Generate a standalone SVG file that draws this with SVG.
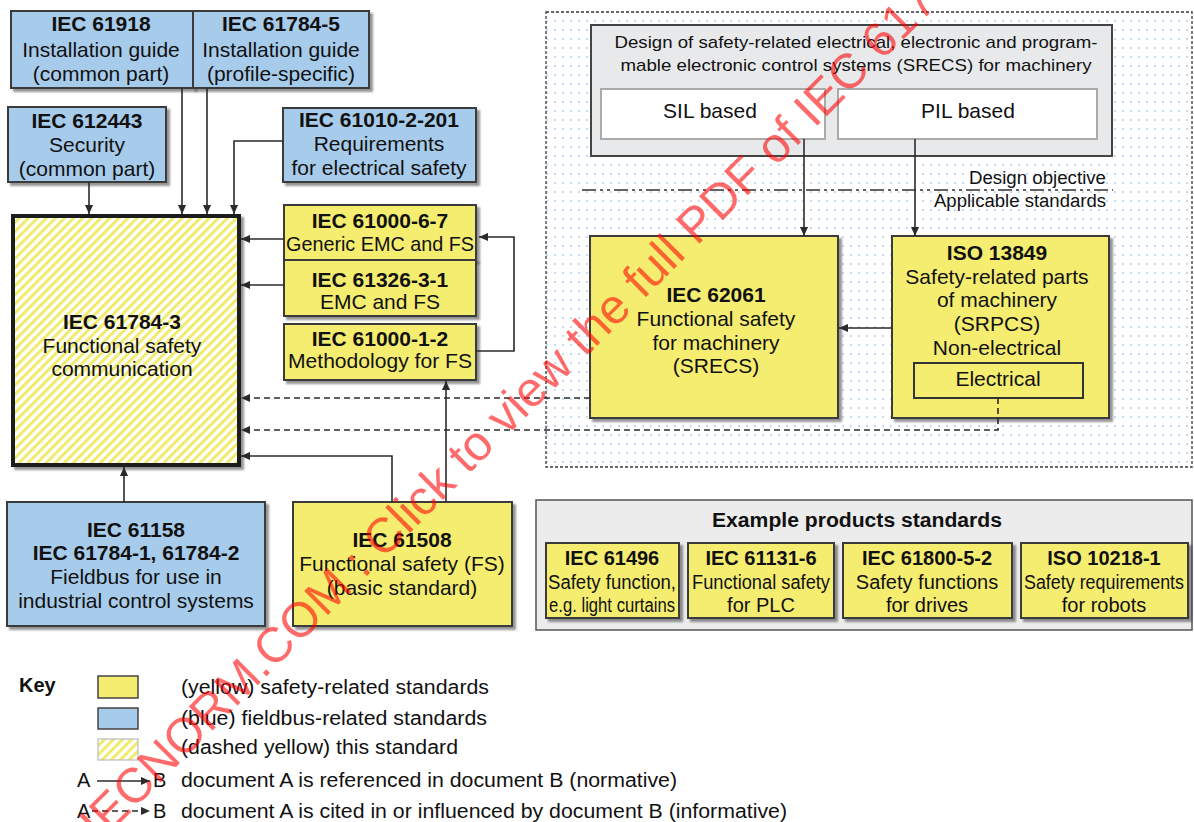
<svg xmlns="http://www.w3.org/2000/svg" width="1194" height="822" viewBox="0 0 1194 822">
  <defs>
    <style>
      .t { font-family: "Liberation Sans", Arial, Helvetica, sans-serif; font-size: 21px; fill: #111; text-anchor: middle; }
      .s { font-size: 17px; }
      .o { font-size: 18px; }
      .m { font-size: 20px; }
      .b { font-weight: bold; }
      .l { text-anchor: start; }
      .e { text-anchor: end; }
      .box { stroke: #3a3a3a; stroke-width: 2; }
      .yel { fill: #f5ed70; }
      .blu { fill: #a7cbea; }
      .conn { fill: none; stroke: #2b2b2b; stroke-width: 1.6; }
      .dash { stroke-dasharray: 6 4; }
      .wm { font-family: "Liberation Sans", Arial, sans-serif; font-size: 49px; fill: #ff0000; fill-opacity: 0.58; }
    </style>
    <marker id="ah" viewBox="0 0 10 10" refX="10" refY="5" markerWidth="10" markerHeight="9" markerUnits="userSpaceOnUse" orient="auto">
      <path d="M0,0.5 L10,5 L0,9.5 z" fill="#2b2b2b"/>
    </marker>
    <pattern id="hatch" width="6.4" height="8" patternUnits="userSpaceOnUse" patternTransform="rotate(45)">
      <rect width="6.4" height="8" fill="#fff"/>
      <rect width="3" height="8" fill="#f2ea6a"/>
    </pattern>
    <pattern id="dots" width="8" height="9" patternUnits="userSpaceOnUse">
      <rect width="8" height="9" fill="#fff"/>
      <circle cx="3" cy="3" r="0.9" fill="#aecbe9"/>
    </pattern>
    <filter id="sh" x="-10%" y="-10%" width="130%" height="140%">
      <feDropShadow dx="3" dy="3" stdDeviation="1.1" flood-color="#000" flood-opacity="0.42"/>
    </filter>
  </defs>

  <rect width="1194" height="822" fill="#fff"/>

  <!-- SRECS design area -->
  <g id="design-area">
    <rect x="546" y="12" width="646" height="455" fill="url(#dots)" stroke="#3a3a3a" stroke-width="1.3" stroke-dasharray="3 2"/>
    <rect x="591" y="25" width="521" height="131" fill="#e8e9eb" stroke="#444" stroke-width="2"/>
    <text class="t s" x="856" y="48" textLength="483" lengthAdjust="spacingAndGlyphs">Design of safety-related electrical, electronic and program-</text>
    <text class="t s" x="856" y="71" textLength="471" lengthAdjust="spacingAndGlyphs">mable electronic control systems (SRECS) for machinery</text>
    <g id="sil">
      <rect x="601" y="89" width="224" height="50" fill="#fff" stroke="#aaa" stroke-width="2"/>
      <text class="t" x="710" y="118">SIL based</text>
    </g>
    <g id="pil">
      <rect x="838" y="89" width="259" height="50" fill="#fff" stroke="#aaa" stroke-width="2"/>
      <text class="t" x="968" y="118">PIL based</text>
    </g>
    <line x1="582" y1="190" x2="1113" y2="190" stroke="#333" stroke-width="1.6" stroke-dasharray="14 4 3 4 3 4"/>
    <text class="t o e" x="1106" y="184" textLength="137" lengthAdjust="spacingAndGlyphs">Design objective</text>
    <text class="t o e" x="1106" y="207" textLength="172" lengthAdjust="spacingAndGlyphs">Applicable standards</text>
  </g>

  <!-- fieldbus-related standards (blue) -->
  <g id="iec61918">
    <rect class="box blu" x="11" y="11" width="182" height="77" filter="url(#sh)"/>
    <text class="t b" x="101" y="31">IEC 61918</text>
    <text class="t" x="101" y="57">Installation guide</text>
    <text class="t" x="101" y="81">(common part)</text>
  </g>
  <g id="iec61784-5">
    <rect class="box blu" x="193" y="11" width="176" height="77" filter="url(#sh)"/>
    <text class="t b" x="281" y="31">IEC 61784-5</text>
    <text class="t" x="281" y="57">Installation guide</text>
    <text class="t" x="281" y="81">(profile-specific)</text>
  </g>
  <g id="iec612443">
    <rect class="box blu" x="8" y="107" width="158" height="75" filter="url(#sh)"/>
    <text class="t b" x="87" y="128">IEC 612443</text>
    <text class="t" x="87" y="152">Security</text>
    <text class="t" x="87" y="176">(common part)</text>
  </g>
  <g id="iec61010-2-201">
    <rect class="box blu" x="283" y="108" width="193" height="74" filter="url(#sh)"/>
    <text class="t b" x="379" y="127">IEC 61010-2-201</text>
    <text class="t" x="379" y="151">Requirements</text>
    <text class="t" x="379" y="175">for electrical safety</text>
  </g>
  <g id="iec61158">
    <rect class="box blu" x="7" y="502" width="258" height="124" filter="url(#sh)"/>
    <text class="t b" x="136" y="537">IEC 61158</text>
    <text class="t b" x="136" y="560">IEC 61784-1, 61784-2</text>
    <text class="t" x="136" y="584">Fieldbus for use in</text>
    <text class="t" x="136" y="608">industrial control systems</text>
  </g>

  <!-- this standard -->
  <g id="iec61784-3">
    <rect x="13" y="216" width="226" height="249" fill="url(#hatch)" stroke="#1c1c1c" stroke-width="4" filter="url(#sh)"/>
    <text class="t b" x="122" y="329">IEC 61784-3</text>
    <text class="t" x="122" y="353">Functional safety</text>
    <text class="t" x="122" y="376">communication</text>
  </g>

  <!-- safety-related standards (yellow) -->
  <g id="iec61000-6-7">
    <rect class="box yel" x="284" y="205" width="192" height="55" filter="url(#sh)"/>
    <text class="t b" x="380" y="228">IEC 61000-6-7</text>
    <text class="t" x="380" y="251" textLength="188" lengthAdjust="spacingAndGlyphs">Generic EMC and FS</text>
  </g>
  <g id="iec61326-3-1">
    <rect class="box yel" x="284" y="260" width="192" height="56" filter="url(#sh)"/>
    <text class="t b" x="380" y="287">IEC 61326-3-1</text>
    <text class="t" x="380" y="309">EMC and FS</text>
  </g>
  <g id="iec61000-1-2">
    <rect class="box yel" x="284" y="324" width="192" height="56" filter="url(#sh)"/>
    <text class="t b" x="380" y="346">IEC 61000-1-2</text>
    <text class="t" x="380" y="368" textLength="184" lengthAdjust="spacingAndGlyphs">Methodology for FS</text>
  </g>
  <g id="iec61508">
    <rect class="box yel" x="293" y="502" width="219" height="124" filter="url(#sh)"/>
    <text class="t b" x="402" y="547">IEC 61508</text>
    <text class="t" x="402" y="571">Functional safety (FS)</text>
    <text class="t" x="402" y="595">(basic standard)</text>
  </g>
  <g id="iec62061">
    <rect class="box yel" x="590" y="236" width="248" height="182" filter="url(#sh)"/>
    <text class="t b" x="716" y="302">IEC 62061</text>
    <text class="t" x="716" y="326">Functional safety</text>
    <text class="t" x="716" y="350">for machinery</text>
    <text class="t" x="716" y="373">(SRECS)</text>
  </g>
  <g id="iso13849">
    <rect class="box yel" x="892" y="236" width="217" height="182" filter="url(#sh)"/>
    <text class="t b" x="997" y="260">ISO 13849</text>
    <text class="t" x="997" y="284">Safety-related parts</text>
    <text class="t" x="997" y="307">of machinery</text>
    <text class="t" x="997" y="331">(SRPCS)</text>
    <text class="t" x="997" y="355">Non-electrical</text>
    <rect x="914" y="363" width="169" height="35" fill="none" stroke="#333" stroke-width="2"/>
    <text class="t" x="998" y="386">Electrical</text>
  </g>

  <!-- example product standards -->
  <g id="example-products">
    <rect x="536" y="500" width="656" height="130" fill="#ececec" stroke="#555" stroke-width="1.5"/>
    <text class="t b m" x="857" y="527" textLength="290" lengthAdjust="spacingAndGlyphs">Example products standards</text>
    <g id="iec61496">
      <rect class="box yel" x="546" y="543" width="133" height="75" filter="url(#sh)"/>
      <text class="t b m" x="612" y="565">IEC 61496</text>
      <text class="t m" x="612" y="589" textLength="128" lengthAdjust="spacingAndGlyphs">Safety function,</text>
      <text class="t m" x="612" y="612" textLength="126" lengthAdjust="spacingAndGlyphs">e.g. light curtains</text>
    </g>
    <g id="iec61131-6">
      <rect class="box yel" x="688" y="543" width="146" height="75" filter="url(#sh)"/>
      <text class="t b m" x="761" y="565">IEC 61131-6</text>
      <text class="t m" x="761" y="589" textLength="138" lengthAdjust="spacingAndGlyphs">Functional safety</text>
      <text class="t m" x="761" y="612">for PLC</text>
    </g>
    <g id="iec61800-5-2">
      <rect class="box yel" x="843" y="543" width="169" height="75" filter="url(#sh)"/>
      <text class="t b m" x="927" y="565">IEC 61800-5-2</text>
      <text class="t m" x="927" y="589">Safety functions</text>
      <text class="t m" x="927" y="612">for drives</text>
    </g>
    <g id="iso10218-1">
      <rect class="box yel" x="1021" y="543" width="167" height="75" filter="url(#sh)"/>
      <text class="t b m" x="1104" y="565">ISO 10218-1</text>
      <text class="t m" x="1104" y="589" textLength="160" lengthAdjust="spacingAndGlyphs">Safety requirements</text>
      <text class="t m" x="1104" y="612">for robots</text>
    </g>
  </g>

  <!-- connectors -->
  <g id="connectors">
    <path class="conn" d="M89,182 V214" marker-end="url(#ah)"/>
    <path class="conn" d="M182,88 V214" marker-end="url(#ah)"/>
    <path class="conn" d="M207,88 V214" marker-end="url(#ah)"/>
    <path class="conn" d="M283,141 H234 V214" marker-end="url(#ah)"/>
    <path class="conn" d="M284,239 H241" marker-end="url(#ah)"/>
    <path class="conn" d="M284,285 H241" marker-end="url(#ah)"/>
    <path class="conn" d="M476,351 H514 V237 H479" marker-end="url(#ah)"/>
    <path class="conn" d="M446,502 V381" marker-end="url(#ah)"/>
    <path class="conn" d="M392,502 V456 H241" marker-end="url(#ah)"/>
    <path class="conn" d="M124,502 V467" marker-end="url(#ah)"/>
    <path class="conn dash" d="M590,398 H241" marker-end="url(#ah)"/>
    <path class="conn dash" d="M998,398 V430 H241" marker-end="url(#ah)"/>
    <path class="conn" d="M804,139 V236" marker-end="url(#ah)"/>
    <path class="conn" d="M915,139 V236" marker-end="url(#ah)"/>
    <path class="conn" d="M892,328 H839" marker-end="url(#ah)"/>
  </g>

  <!-- key -->
  <g id="key">
    <text class="t b m l" x="19" y="692">Key</text>
    <rect x="98" y="676" width="40" height="22" fill="#f5ed70" stroke="#444" stroke-width="1.5"/>
    <rect x="98" y="708" width="40" height="21" fill="#a7cbea" stroke="#444" stroke-width="1.5"/>
    <rect x="98" y="739" width="40" height="21" fill="url(#hatch)" stroke="#bbb" stroke-width="1.2"/>
    <text class="t m l" x="181" y="694" textLength="308" lengthAdjust="spacingAndGlyphs">(yellow) safety-related standards</text>
    <text class="t m l" x="181" y="725" textLength="306" lengthAdjust="spacingAndGlyphs">(blue) fieldbus-related standards</text>
    <text class="t m l" x="181" y="754" textLength="277" lengthAdjust="spacingAndGlyphs">(dashed yellow) this standard</text>
    <text class="t m l" x="77" y="787">A</text>
    <path class="conn" d="M97,781 H150" marker-end="url(#ah)"/>
    <text class="t m l" x="153" y="787">B</text>
    <text class="t m l" x="181" y="787" textLength="496" lengthAdjust="spacingAndGlyphs">document A is referenced in document B (normative)</text>
    <text class="t m l" x="77" y="818">A</text>
    <path class="conn dash" d="M92,811 H150" stroke-dasharray="5 4" marker-end="url(#ah)"/>
    <text class="t m l" x="153" y="818">B</text>
    <text class="t m l" x="181" y="818" textLength="606" lengthAdjust="spacingAndGlyphs">document A is cited in or influenced by document B (informative)</text>
  </g>

  <!-- stamp across the sheet -->
  <text class="wm" transform="translate(100,843) rotate(-45)">IECNORM.COM : Click to view the full PDF of IEC 61784-3:2021</text>
</svg>
